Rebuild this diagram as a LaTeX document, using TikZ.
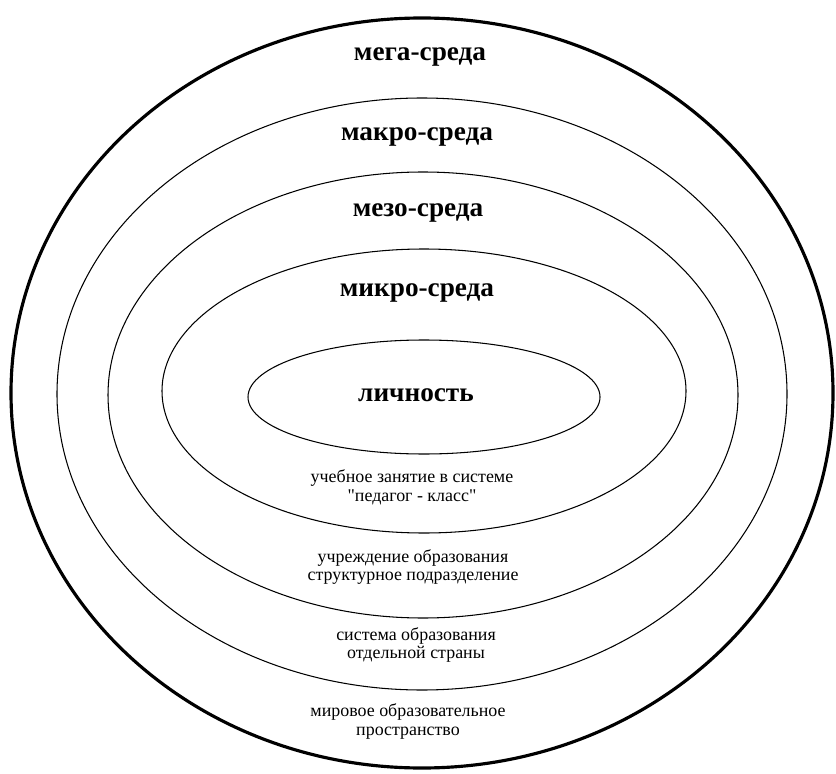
\documentclass[tikz,border=0pt]{standalone}
\usepackage{fontspec}
\setmainfont{Liberation Serif}
\usetikzlibrary{shapes.geometric}

\begin{document}
\begin{tikzpicture}[ring/.style={ellipse, draw, inner sep=0pt, line width=0.6pt},level/.style={font=\bfseries\fontsize{15.5}{17}\selectfont},note/.style={align=center, font=\fontsize{10.2}{10.6}\selectfont}]
  \path[fill=white, use as bounding box] (0,0) rectangle (16.72,-15.48);

  \node[ring, line width=1.8pt, minimum width=16.44cm, minimum height=15cm] (mega) at (8.44,-7.86) {};
  \node[ring, minimum width=14.6cm, minimum height=11.84cm] (macro) at (8.44,-7.88) {};
  \node[ring, minimum width=12.6cm, minimum height=8.92cm] (meso) at (8.46,-7.9) {};
  \node[ring, minimum width=10.48cm, minimum height=5.68cm] (micro) at (8.48,-7.82) {};
  \node[ring, minimum width=7.04cm, minimum height=2.28cm] (self) at (8.48,-7.94) {};

  \node[level] (meganame) at (8.4,-1.14) {мега-среда};
  \node[level] (macroname) at (8.34,-2.74) {макро-среда};
  \node[level] (mesoname) at (8.36,-4.26) {мезо-среда};
  \node[level] (microname) at (8.34,-5.86) {микро-среда};
  \node[level] (selfname) at (8.32,-7.9) {личность};

  \node[note] (microtext) at (8.24,-9.74) {учебное занятие в системе\\\textquotedbl педагог - класс\textquotedbl};
  \node[note] (mesotext) at (8.26,-11.34) {учреждение образования\\структурное подразделение};
  \node[note] (macrotext) at (8.32,-12.9) {система образования\\отдельной страны};
  \node[note] (megatext) at (8.16,-14.43) {мировое образовательное\\пространство};
\end{tikzpicture}
\end{document}
